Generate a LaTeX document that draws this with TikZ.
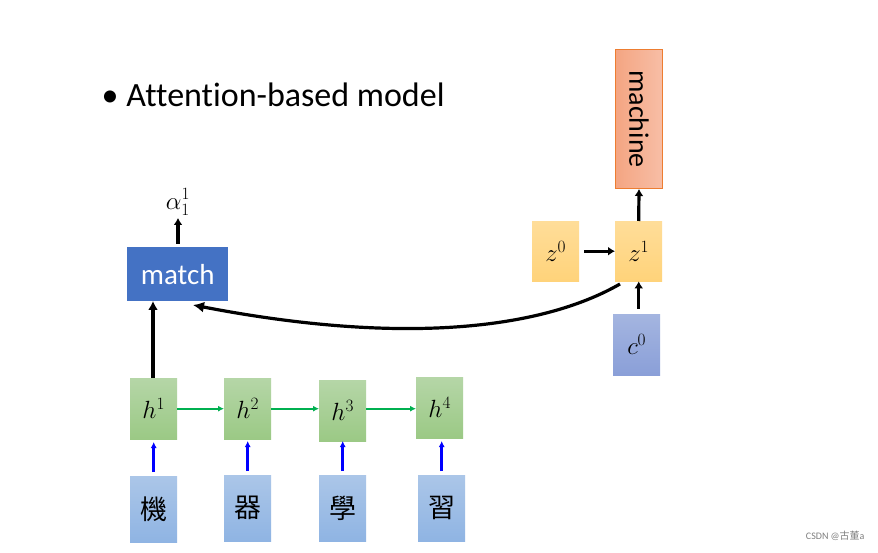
\documentclass[tikz,border=0pt]{standalone}
\usepackage{fontspec}
\setmainfont{Carlito}[Ligatures={NoCommon}]
\newfontfamily\cjk{Noto Sans CJK TC}
\usetikzlibrary{arrows.meta}
\definecolor{matchc}{HTML}{4472C4}
\definecolor{gtop}{RGB}{181,214,167}
\definecolor{gbot}{RGB}{155,201,133}
\definecolor{ctop}{RGB}{171,198,232}
\definecolor{cbot}{RGB}{143,180,227}
\definecolor{ztop}{RGB}{255,221,153}
\definecolor{zbot}{RGB}{255,211,122}
\definecolor{c0top}{RGB}{164,181,224}
\definecolor{c0bot}{RGB}{138,159,216}
\definecolor{mleft}{RGB}{244,165,130}
\definecolor{mright}{RGB}{247,190,166}
\definecolor{mborder}{RGB}{237,125,49}
\definecolor{arrg}{RGB}{0,176,80}
\tikzset{
 box/.style={minimum width=47pt,minimum height=61pt,inner sep=0pt,anchor=north west},
 gbox/.style={box,top color=gtop,bottom color=gbot,font=\fontsize{27}{27}\selectfont},
 cbox/.style={box,minimum height=66pt,top color=ctop,bottom color=cbot,font=\cjk\fontsize{27}{27}\selectfont},
 zbox/.style={box,minimum height=60pt,top color=ztop,bottom color=zbot,font=\fontsize{27}{27}\selectfont},
 barr/.style={-{Latex[length=7pt,width=9pt]},line width=3.2pt},
 blarr/.style={-{Latex[length=6pt,width=6pt]},line width=2.6pt,blue},
 garr/.style={-{Latex[length=6pt,width=6pt]},line width=2.2pt,arrg},
}
\begin{document}
\begin{tikzpicture}[x=1pt,y=-1pt]
\useasboundingbox[fill=white] (0,0) rectangle (878,553);
\node[anchor=west,font=\fontsize{34}{34}\selectfont] (title) at (98,95) {•\hspace{8pt}Attention-based model};
\node[box,minimum width=101pt,minimum height=54pt,fill=matchc,text=white,font=\fontsize{29}{29}\selectfont] (match) at (127,247) {match};
\node[font=\fontsize{27}{27}\selectfont] (alpha) at (178,202) {$\alpha_1^1$};
\node[gbox] (h1) at (130,378) {$h^1$};
\node[gbox] (h2) at (224,378) {$h^2$};
\node[gbox] (h3) at (319,380) {$h^3$};
\node[gbox] (h4) at (416,377) {$h^4$};
\node[cbox] (c1) at (130,476) {機};
\node[cbox] (c2) at (224,475) {器};
\node[cbox] (c3) at (319,475) {學};
\node[cbox] (c4) at (418,475) {習};
\node[zbox] (z0) at (532,221) {$z^0$};
\node[zbox] (z1) at (615,221) {$z^1$};
\node[box,top color=c0top,bottom color=c0bot,font=\fontsize{27}{27}\selectfont] (c0) at (613,314) {$c^0$};
\node[box,minimum height=139pt,left color=mleft,right color=mright,draw=mborder,line width=1pt] (mach) at (615,49) {};
\node[rotate=-90,font=\fontsize{28}{28}\selectfont] (machtext) at (mach.center) {machine};
\node[anchor=east,text=gray,font=\fontsize{10}{10}\selectfont] (wm) at (868,536) {CSDN @{\cjk 古董}a};
\draw[barr] (178,244) -- (178,218);
\draw[-{Latex[length=9pt,width=10pt]},line width=3.4pt] (153,378) -- (153,301);
\draw[garr] (h1.east) -- (h2.west);
\draw[garr] (h2.east) -- (h3.west |- h2.east);
\draw[garr] (h3.east |- h2.east) -- (h4.west |- h2.east);
\draw[blarr] (c1.north) ++(0,-4) -- ++(0,-30);
\draw[blarr] (c2.north) ++(0,-4) -- ++(0,-30);
\draw[blarr] (c3.north) ++(0,-4) -- ++(0,-30);
\draw[blarr] (c4.north) ++(0,-4) -- ++(0,-30);
\draw[barr] (z0.east) ++(5,0) -- (z1.west);
\draw[barr] (c0.north -| z1.south) ++(0,-5) -- (z1.south);
\draw[barr] (z1.north) -- (mach.south);
\draw[-{Latex[length=11pt,width=11pt]},line width=3.2pt] (620,284) .. controls (540,330) and (400,345) .. (193,305);
\end{tikzpicture}
\end{document}
